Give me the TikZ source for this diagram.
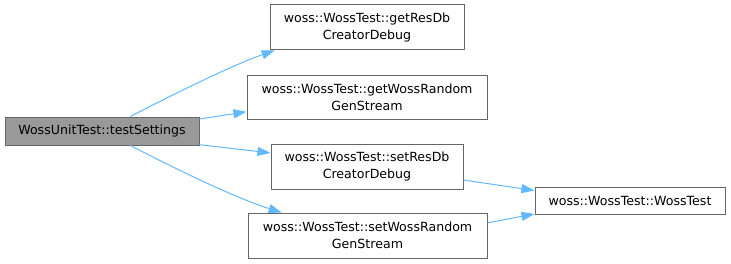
\documentclass[tikz,border=0pt]{standalone}
\usepackage{fontspec}
\setmainfont{DejaVu Sans}
\usetikzlibrary{arrows.meta}
\definecolor{EdgeBlue}{HTML}{63B8FF}
\definecolor{BoxGray}{HTML}{666666}
\definecolor{CurFill}{HTML}{999999}

\begin{document}
\begin{tikzpicture}[x=1pt,y=1pt,
    fn/.style={draw=BoxGray,fill=white,line width=1pt,inner sep=0pt,align=center,
      font=\fontsize{12.6}{17}\selectfont,minimum height=45pt},
    call/.style={EdgeBlue,line width=1pt,-{Triangle[length=13pt,width=9pt]}}]
    \useasboundingbox (0,0) rectangle (731,263);
    \node[fn,fill=CurFill,minimum width=194pt,minimum height=28pt] (main) at (102,132)
      {WossUnitTest::testSettings};
    \node[fn,minimum width=194pt] (getres) at (367,235.5) {woss::WossTest::getResDb\\CreatorDebug};
    \node[fn,minimum width=240pt,minimum height=44pt] (getwoss) at (367,166)
      {woss::WossTest::getWossRandom\\GenStream};
    \node[fn,minimum width=192pt] (setres) at (367,96.5) {woss::WossTest::setResDb\\CreatorDebug};
    \node[fn,minimum width=239pt] (setwoss) at (367.5,27.5)
      {woss::WossTest::setWossRandom\\GenStream};
    \node[fn,minimum width=190pt,minimum height=27pt] (ctor) at (630,62.5) {woss::WossTest::WossTest};
    \draw[call] (main.27) .. controls (162,163) and (232,198) .. (getres.194.5);
    \draw[call] (main.7.6) -- (getwoss.187.6);
    \draw[call] (main.-8.2) -- (setres.172.6);
    \draw[call] (main.-27) .. controls (162,101) and (232,66) .. (setwoss.165.6);
    \draw[call] (setres.-8) -- (ctor.174.3);
    \draw[call] (setwoss.6.4) -- (ctor.188);
  \end{tikzpicture}
\end{document}
